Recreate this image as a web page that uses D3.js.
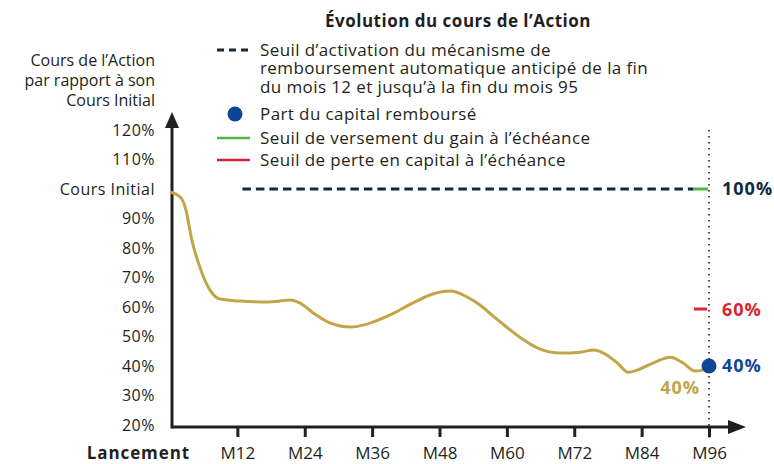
<!DOCTYPE html>
<html>
<head>
<meta charset="utf-8">
<style>
    body { margin: 0; background: #fff; }
    text { font-family: "Open Sans", sans-serif; }
</style>
</head>
<body>
<script src="https://d3js.org/d3.v7.min.js"></script>
<script>
    // cours de l'action (% du cours initial) par mois
    var months = [0, 1.8, 2.7, 3.9, 5.3, 7.1, 8.9, 12.5, 17.3, 19.6, 21.4, 23.1, 25.5, 28.5, 32.1, 35.1,
        39.2, 43.3, 46.8, 49.9, 52.9, 55.2, 56.7, 59.5, 62.5, 65.5, 69.6, 73.1, 75.4, 77.2, 79.7, 81.6,
        83.2, 86.0, 89.1, 91.4, 93.5, 94.9];
    var values = [99.0, 97.3, 93.9, 82.7, 73.6, 65.8, 62.7, 62.0, 61.7, 62.0, 62.4, 61.4, 58.0, 54.6, 53.2, 54.2,
        57.3, 61.4, 64.4, 65.4, 63.4, 60.7, 58.3, 53.9, 49.5, 46.1, 44.4, 44.7, 45.4, 44.4, 41.0, 37.9,
        38.6, 41.0, 43.0, 41.0, 38.3, 38.6];

    var xTicks = [12, 24, 36, 48, 60, 72, 84, 96];
    var xTickLabels = ['M12', 'M24', 'M36', 'M48', 'M60', 'M72', 'M84', 'M96'];
    var yTicks = [20, 30, 40, 50, 60, 70, 80, 90, 100, 110, 120];
    var yTickLabels = ['20%', '30%', '40%', '50%', '60%', '70%', '80%', '90%', 'Cours Initial', '110%', '120%'];

    // seuils
    var autocallLevel = 100, autocallStart = 12, autocallEnd = 95;
    var gainLevel = 100, lossLevel = 60, capitalShare = 40, maturity = 96, finalValue = 40;

    var legendTitle = 'Évolution du cours de l’Action';
    var legendItems = [
        ['Seuil d’activation du mécanisme de', 'remboursement automatique anticipé de la fin', 'du mois 12 et jusqu’à la fin du mois 95'],
        ['Part du capital remboursé'],
        ['Seuil de versement du gain à l’échéance'],
        ['Seuil de perte en capital à l’échéance']
    ];
    var yTitle = ['Cours de l’Action', 'par rapport à son', 'Cours Initial'];

    var width = 774, height = 464,
        axisColor = '#231f20', gold = '#c2a547', navy = '#0e2a3e',
        blue = '#0f4596', red = '#d9262e', green = '#4cb748';

    var x = d3.scaleLinear().domain([0, 96]).range([170, 709]);
    var y = d3.scaleLinear().domain([20, 120]).range([425, 130]);
    var axisY = 427, axisX = 172;

    var svg = d3.select('body').append('svg')
        .attr('width', width).attr('height', height);

    // axe X (graduations)
    var gx = svg.append('g')
        .attr('transform', `translate(0,${axisY})`)
        .call(d3.axisBottom(x).tickValues(xTicks)
            .tickFormat((d, i) => xTickLabels[i])
            .tickSizeInner(10).tickSizeOuter(0).tickPadding(10));
    gx.select('.domain').remove();
    gx.selectAll('.tick line').attr('stroke', axisColor).attr('stroke-width', 3);
    gx.selectAll('.tick text').attr('font-size', 17).attr('fill', axisColor)
        .attr('font-family', '"Open Sans", sans-serif');

    // axe Y (libellés)
    var gy = svg.append('g')
        .attr('transform', `translate(${axisX},0)`)
        .call(d3.axisLeft(y).tickValues(yTicks)
            .tickFormat((d, i) => yTickLabels[i])
            .tickSize(0).tickPadding(17));
    gy.select('.domain').remove();
    gy.selectAll('.tick text').attr('font-size', 16).attr('fill', axisColor)
        .attr('letter-spacing', 0.5)
        .attr('font-family', '"Open Sans", sans-serif');

    // lignes d'axes + flèches
    svg.append('line').attr('x1', axisX).attr('x2', 732).attr('y1', axisY).attr('y2', axisY)
        .attr('stroke', axisColor).attr('stroke-width', 3);
    svg.append('line').attr('x1', axisX).attr('x2', axisX).attr('y1', axisY + 1.5).attr('y2', 125)
        .attr('stroke', axisColor).attr('stroke-width', 3);
    svg.append('path').attr('d', `M746,${axisY} L728,${axisY - 7} L728,${axisY + 7} Z`).attr('fill', axisColor);
    svg.append('path').attr('d', `M${axisX},112 L${axisX - 7},128 L${axisX + 7},128 Z`).attr('fill', axisColor);

    svg.append('text').text('Lancement')
        .attr('x', 190).attr('y', 453).attr('dy', '0.35em')
        .attr('text-anchor', 'end').attr('font-size', 17).attr('font-weight', 'bold')
        .attr('letter-spacing', 0.9).attr('fill', axisColor);

    // titre axe Y
    svg.selectAll('text.ytitle').data(yTitle).enter()
        .append('text').attr('class', 'ytitle')
        .text(d => d)
        .attr('x', 155).attr('y', (d, i) => 60 + i * 20).attr('dy', '0.35em')
        .attr('text-anchor', 'end').attr('font-size', 16).attr('fill', axisColor);

    // ligne verticale pointillée à l'échéance
    svg.append('line')
        .attr('x1', x(maturity)).attr('x2', x(maturity)).attr('y1', 130).attr('y2', 442)
        .attr('stroke', axisColor).attr('stroke-width', 1.6)
        .attr('stroke-dasharray', '1.6,4.4');

    // seuil de remboursement anticipé
    svg.append('line')
        .attr('x1', x(autocallStart) + 5).attr('x2', x(autocallEnd) - 10)
        .attr('y1', y(autocallLevel)).attr('y2', y(autocallLevel))
        .attr('stroke', navy).attr('stroke-width', 3).attr('stroke-dasharray', '8.5,5');

    // seuil de gain
    svg.append('line')
        .attr('x1', x(maturity) - 16).attr('x2', x(maturity) - 1)
        .attr('y1', y(gainLevel)).attr('y2', y(gainLevel))
        .attr('stroke', green).attr('stroke-width', 3);

    // seuil de perte
    svg.append('line')
        .attr('x1', x(maturity) - 15).attr('x2', x(maturity) - 2)
        .attr('y1', y(lossLevel) + 2).attr('y2', y(lossLevel) + 2)
        .attr('stroke', red).attr('stroke-width', 3);

    // courbe
    var line = d3.line().x((d, i) => x(months[i])).y(d => y(d)).curve(d3.curveMonotoneX);
    svg.append('path').datum(values)
        .attr('d', line)
        .attr('fill', 'none').attr('stroke', gold).attr('stroke-width', 3);

    // part du capital remboursé
    svg.append('circle')
        .attr('cx', x(maturity)).attr('cy', y(capitalShare)).attr('r', 7.5)
        .attr('fill', blue);

    // libellés à droite
    var rightLabels = [[gainLevel, navy, 0], [lossLevel, red, 3], [capitalShare, blue, 0]];
    svg.selectAll('text.right').data(rightLabels).enter()
        .append('text').attr('class', 'right')
        .text(d => d[0] + '%')
        .attr('x', 722).attr('y', d => y(d[0]) + d[2]).attr('dy', '0.36em')
        .attr('font-size', 18).attr('font-weight', 'bold').attr('letter-spacing', 1)
        .attr('fill', d => d[1]);

    svg.append('text').text(finalValue + '%')
        .attr('x', 700).attr('y', y(finalValue) + 22).attr('dy', '0.36em')
        .attr('text-anchor', 'end')
        .attr('font-size', 18).attr('font-weight', 'bold').attr('letter-spacing', 1).attr('fill', gold);

    // légende
    svg.append('text').text(legendTitle)
        .attr('x', 458).attr('y', 21).attr('dy', '0.35em')
        .attr('text-anchor', 'middle').attr('font-size', 17).attr('font-weight', 'bold')
        .attr('letter-spacing', 0.5).attr('fill', axisColor);

    var legendY = [50, 114, 138, 160];
    var legend = svg.selectAll('g.legend').data(legendItems).enter()
        .append('g').attr('class', 'legend')
        .attr('transform', (d, i) => `translate(0,${legendY[i]})`);
    legend.selectAll('text').data(d => d).enter()
        .append('text').text(d => d)
        .attr('x', 260).attr('y', (d, i) => i * 18.5).attr('dy', '0.35em')
        .attr('font-size', 17).attr('letter-spacing', 0.4).attr('fill', axisColor);

    svg.append('line').attr('x1', 217).attr('x2', 251).attr('y1', legendY[0]).attr('y2', legendY[0])
        .attr('stroke', navy).attr('stroke-width', 3).attr('stroke-dasharray', '7,5');
    svg.append('circle').attr('cx', 235).attr('cy', legendY[1]).attr('r', 7.5).attr('fill', blue);
    svg.append('line').attr('x1', 217).attr('x2', 250).attr('y1', legendY[2]).attr('y2', legendY[2])
        .attr('stroke', green).attr('stroke-width', 2.5);
    svg.append('line').attr('x1', 217).attr('x2', 250).attr('y1', legendY[3]).attr('y2', legendY[3])
        .attr('stroke', red).attr('stroke-width', 2.5);
</script>
</body>
</html>
